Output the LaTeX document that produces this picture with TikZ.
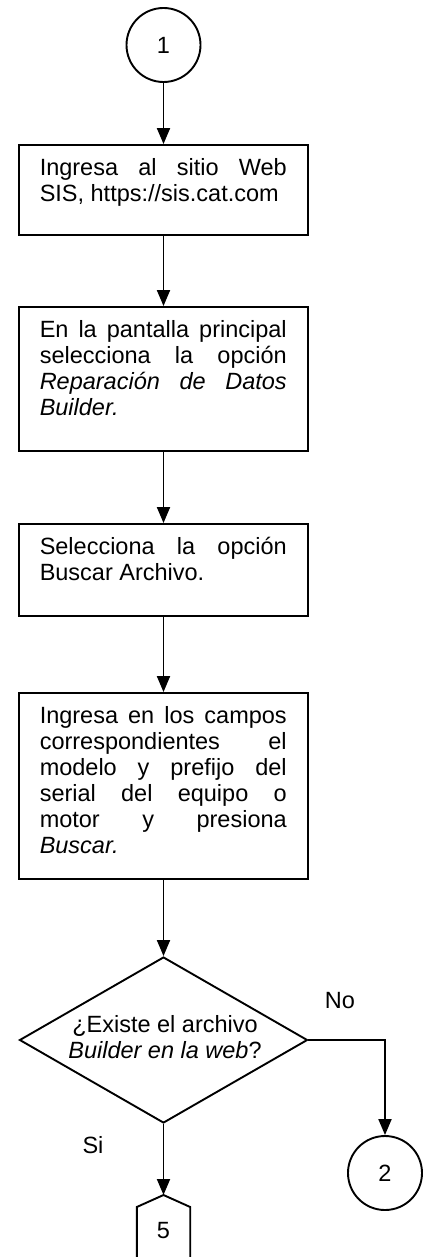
\documentclass[tikz,border=0pt]{standalone}
\usepackage{fontspec}
\setmainfont{Liberation Sans}
\usetikzlibrary{arrows.meta,shapes.geometric}
\newcommand\jl[1]{\makebox[247pt][s]{\strut #1}}
\begin{document}
\begin{tikzpicture}[x=1pt,y=-1pt,
  every node/.style={font=\fontsize{23.5}{26}\selectfont},
  ln/.style={line width=1.9pt},
  arr/.style={ln,-{Triangle[width=13pt,length=16pt]}},
  stepbox/.style={draw,ln,rectangle,minimum width=289pt,inner sep=0pt},
  txt/.style={anchor=north west,align=left,inner sep=0pt},
  conn/.style={draw,ln,circle,minimum size=74pt,inner sep=0pt},
  dec/.style={draw,ln,diamond,minimum width=288pt,minimum height=166pt,inner sep=0pt}
]
\useasboundingbox (0,0) rectangle (426,1257);
\clip (0,0) rectangle (426,1257);
% connector 1
\node[conn] (c1) at (163.5,45) {1};
% boxes
\node[stepbox,minimum height=90pt] (b1) at (163.5,190) {};
\node[txt] (t1) at ([shift={(21.5,13.5)}]b1.north west)
  {\jl{Ingresa al sitio Web}\\\strut SIS, https://sis.cat.com};
\node[stepbox,minimum height=144pt] (b2) at (163.5,379) {};
\node[txt] (t2) at ([shift={(21.5,13.5)}]b2.north west)
  {\jl{En la pantalla principal}\\\jl{selecciona la opción}\\\jl{\itshape Reparación de Datos}\\\strut\textit{Builder.}};
\node[stepbox,minimum height=92pt] (b3) at (163.5,570) {};
\node[txt] (t3) at ([shift={(21.5,13.5)}]b3.north west)
  {\jl{Selecciona la opción}\\\strut Buscar Archivo.};
\node[stepbox,minimum height=186pt] (b4) at (163.5,786) {};
\node[txt] (t4) at ([shift={(21.5,13.5)}]b4.north west)
  {\jl{Ingresa en los campos}\\\jl{correspondientes el}\\\jl{modelo y prefijo del}\\\jl{serial del equipo o}\\\jl{motor y presiona}\\\strut\textit{Buscar.}};
% decision
\node[dec] (d) at (163.5,1040) {};
\node[align=center,inner sep=0pt] (dt) at (165,1040)
  {\strut¿Existe el archivo\\\strut\textit{Builder en la web}?};
\node (no) at (340,1001) {No};
\node (si) at (93,1145.5) {Si};
% connector 2
\node[conn] (c2) at (385,1173) {2};
% off-page connector 5
\coordinate (p5tip) at (163.5,1195);
\draw[ln] (136.8,1275) -- (136.8,1207) -- (p5tip) -- (190.2,1207) -- (190.2,1275);
\node (p5) at (163.5,1231) {5};
% arrows
\draw[arr] (c1.south) -- (b1.north);
\draw[arr] (b1.south) -- (b2.north);
\draw[arr] (b2.south) -- (b3.north);
\draw[arr] (b3.south) -- (b4.north);
\draw[arr] (b4.south) -- (d.north);
\draw[arr] (d.east) -| (c2.north);
\draw[arr] (d.south) -- (p5tip);
\end{tikzpicture}
\end{document}
